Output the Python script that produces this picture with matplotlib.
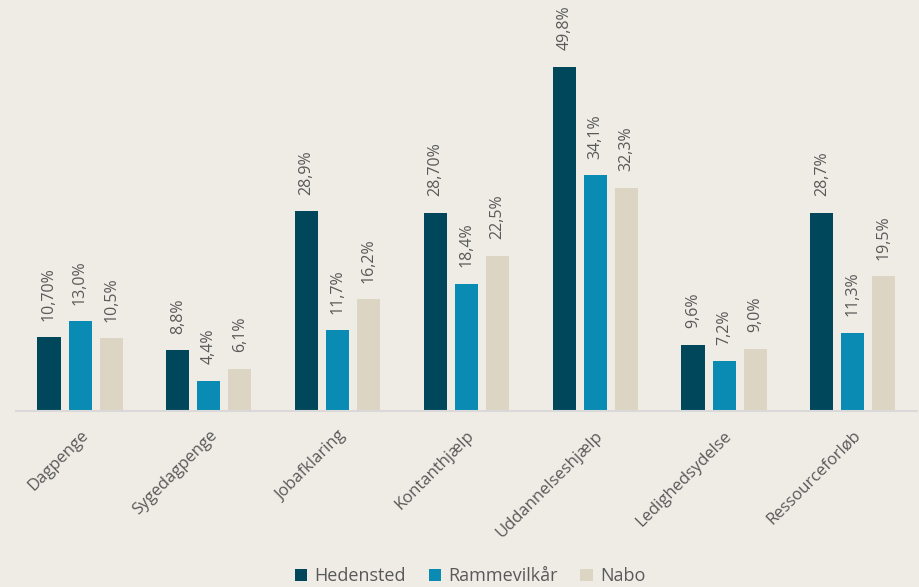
import matplotlib.pyplot as plt
import numpy as np

plt.rcParams['font.family'] = ['Open Sans', 'DejaVu Sans']

kategorier = ['Dagpenge', 'Sygedagpenge', 'Jobafklaring', 'Kontanthjælp',
              'Uddannelseshjælp', 'Ledighedsydelse', 'Ressourceforløb']
hedensted = [10.70, 8.8, 28.9, 28.70, 49.8, 9.6, 28.7]
rammevilkaar = [13.0, 4.4, 11.7, 18.4, 34.1, 7.2, 11.3]
nabo = [10.5, 6.1, 16.2, 22.5, 32.3, 9.0, 19.5]
labels_hed = ['10,70%', '8,8%', '28,9%', '28,70%', '49,8%', '9,6%', '28,7%']
labels_ram = ['13,0%', '4,4%', '11,7%', '18,4%', '34,1%', '7,2%', '11,3%']
labels_nab = ['10,5%', '6,1%', '16,2%', '22,5%', '32,3%', '9,0%', '19,5%']

serier = ['Hedensted', 'Rammevilkår', 'Nabo']
farver = ['#00475C', '#098BB4', '#DDD5C4']
bg = '#EFECE6'
tekst = '#595959'

fig = plt.figure(figsize=(9.2, 5.87), dpi=100, facecolor=bg)
ax = fig.add_axes([0.017, 0.2998, 0.98, 0.7002])
ax.set_facecolor(bg)

x = np.arange(len(kategorier))
bredde = 0.179
step = 0.241
data = [hedensted, rammevilkaar, nabo]
etiketter = [labels_hed, labels_ram, labels_nab]

for i, (vals, labs) in enumerate(zip(data, etiketter)):
    pos = x + (i - 1) * step
    ax.bar(pos, vals, width=bredde, color=farver[i], label=serier[i], zorder=2)
    for p, v, l in zip(pos, vals, labs):
        ax.text(p, v + 2.4, l, rotation=90, ha='center', va='bottom',
                fontsize=11.5, color=tekst)

ax.set_xlim(-0.5, 6.5)
ax.set_ylim(0, 59.5)
for s in ['top', 'right', 'left']:
    ax.spines[s].set_visible(False)
ax.spines['bottom'].set_color('#D9D9D9')
ax.spines['bottom'].set_linewidth(1.5)
ax.set_yticks([])
ax.set_xticks(x)
ax.set_xticklabels(kategorier, rotation=45, ha='right', va='top',
                   rotation_mode='anchor', fontsize=12, color=tekst)
ax.tick_params(axis='x', length=0, pad=12)

leg = fig.legend(loc='lower center', bbox_to_anchor=(0.511, -0.025), ncol=3,
                 frameon=False, fontsize=13, handlelength=0.7, handleheight=0.7,
                 handletextpad=0.4, columnspacing=1.25)
for t in leg.get_texts():
    t.set_color(tekst)

fig.savefig('out.png', dpi=100, facecolor=bg)
